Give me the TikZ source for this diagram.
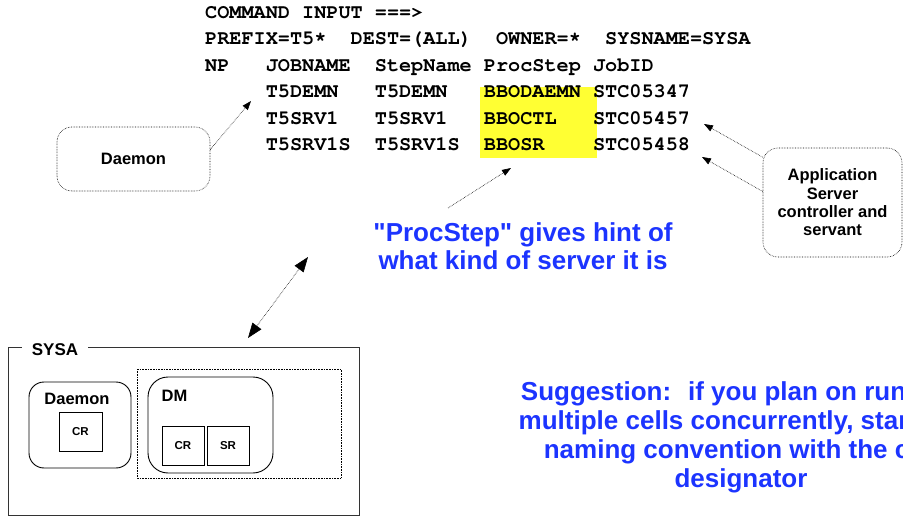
\documentclass[tikz,border=0pt]{standalone}
\usepackage{fontspec}
\setmainfont{Liberation Sans}
\newfontfamily\notefont{Liberation Sans}[Ligatures=TeXOff]
\usetikzlibrary{arrows.meta}
\definecolor{hiyel}{RGB}{255,255,51}
\definecolor{noteblue}{RGB}{28,52,255}
\newcommand{\courbold}{\fontencoding{T1}\fontfamily{pcr}\fontseries{b}\fontshape{n}\fontsize{20.2}{24}\selectfont}
\newcommand{\hiast}{\raisebox{3pt}{*}}
\begin{document}
\begin{tikzpicture}[x=1pt,y=-1pt,
  mono/.style={font=\courbold, anchor=base west, inner sep=0pt},
  callout/.style={draw, densely dotted, line width=0.6pt, rounded corners=15pt, inner sep=0pt, align=center, font=\bfseries\fontsize{16.5}{18.3}\selectfont},
  ptr/.style={densely dotted, line width=0.6pt, -{Triangle[length=9pt,width=6.5pt]}},
  dptr/.style={densely dotted, line width=0.6pt, {Triangle[length=15pt,width=11pt]}-{Triangle[length=15pt,width=11pt]}},
  note/.style={text=noteblue, align=center, inner sep=0pt, font=\notefont\bfseries\fontsize{26}{28.7}\selectfont},
  sysbox/.style={draw=black!80, line width=1pt},
  rbox/.style={draw, line width=0.9pt, inner sep=0pt},
  lbl/.style={inner sep=0pt, font=\bfseries\fontsize{16.5}{18}\selectfont},
  small/.style={inner sep=0pt, font=\bfseries\fontsize{11.5}{13}\selectfont}
]
\useasboundingbox (0,0) rectangle (903,516);
\clip (0,0) rectangle (903,516);

% yellow highlight
\fill[hiyel] (480,87) rectangle (597,158);

% command listing
\node[mono] (c1) at (205,18.5) {COMMAND INPUT ===>};
\node[mono] (p1) at (205+0*12.12,45) {PREFIX=T5\hiast};
\node[mono] (p2) at (205+12*12.12,45) {DEST=(ALL)};
\node[mono] (p3) at (205+24*12.12,45) {OWNER=\hiast};
\node[mono] (p4) at (205+33*12.12,45) {SYSNAME=SYSA};
\node[mono] (h1) at (205+0*12.12,71.5) {NP};
\node[mono] (h2) at (205+5*12.12,71.5) {JOBNAME};
\node[mono] (h3) at (205+14*12.12,71.5) {StepName};
\node[mono] (h4) at (205+23*12.12,71.5) {ProcStep};
\node[mono] (h5) at (205+32*12.12,71.5) {JobID};
\node[mono] (r1a) at (205+5*12.12,98) {T5DEMN};
\node[mono] (r1b) at (205+14*12.12,98) {T5DEMN};
\node[mono] (r1c) at (205+23*12.12,98) {BBODAEMN};
\node[mono] (r1d) at (205+32*12.12,98) {STC05347};
\node[mono] (r2a) at (205+5*12.12,124.5) {T5SRV1};
\node[mono] (r2b) at (205+14*12.12,124.5) {T5SRV1};
\node[mono] (r2c) at (205+23*12.12,124.5) {BBOCTL};
\node[mono] (r2d) at (205+32*12.12,124.5) {STC05457};
\node[mono] (r3a) at (205+5*12.12,151) {T5SRV1S};
\node[mono] (r3b) at (205+14*12.12,151) {T5SRV1S};
\node[mono] (r3c) at (205+23*12.12,151) {BBOSR};
\node[mono] (r3d) at (205+32*12.12,151) {STC05458};

% Daemon callout
\node[callout, minimum width=153, minimum height=64] (dcall) at (133.5,159) {Daemon};
\coordinate (dtip) at (251,101);
\draw[ptr] (dcall.7) -- (dtip);

% Application server callout
\node[callout, minimum width=139, minimum height=109] (acall) at (832.5,202.5) {Application\\Server\\controller and\\servant};
\coordinate (atip1) at (704,124);
\coordinate (atip2) at (702,157);
\draw[ptr] (acall.147) -- (atip1);
\draw[ptr] (acall.171) -- (atip2);

% ProcStep hint
\coordinate (pstart) at (448,208);
\coordinate (ptip) at (511,168);
\draw[ptr] (pstart) -- (ptip);
\node[note, anchor=base] (hint) at (523,269.7) {"ProcStep" gives hint of\\what kind of server it is};

% double arrow
\coordinate (dbl1) at (248,338);
\coordinate (dbl2) at (308,257);
\draw[dptr] (dbl1) -- (dbl2);

% SYSA system
\draw[sysbox] (8,347) rectangle (359,515);
\node[lbl, fill=white, inner xsep=10pt, inner ysep=2pt, font=\bfseries\fontsize{17}{18}\selectfont] (sysa) at (55,350) {SYSA};

\node[rbox, rounded corners=15pt, minimum width=102, minimum height=86] (dbox) at (80,425) {};
\node[lbl] (dlbl) at (77,399) {Daemon};
\node[rbox, minimum width=43, minimum height=39] (dcr) at (80.5,431.5) {};
\node[small] at (dcr) {CR};

\draw[densely dotted, line width=0.6pt] (137,369) rectangle (341,478);
\node[rbox, rounded corners=20pt, minimum width=125, minimum height=96] (dmbox) at (210.5,425) {};
\node[lbl] (dmlbl) at (174.5,396) {DM};
\node[rbox, minimum width=42, minimum height=39] (dmcr) at (183,445.5) {};
\node[small] at (dmcr) {CR};
\node[rbox, minimum width=42, minimum height=39] (dmsr) at (228,445.5) {};
\node[small] at (dmsr) {SR};

% suggestion
\node[note, anchor=base] (sugg) at (741,487) {Suggestion:~ if you plan on running\\multiple cells concurrently, start the\\naming convention with the cell\\designator};
\end{tikzpicture}
\end{document}
